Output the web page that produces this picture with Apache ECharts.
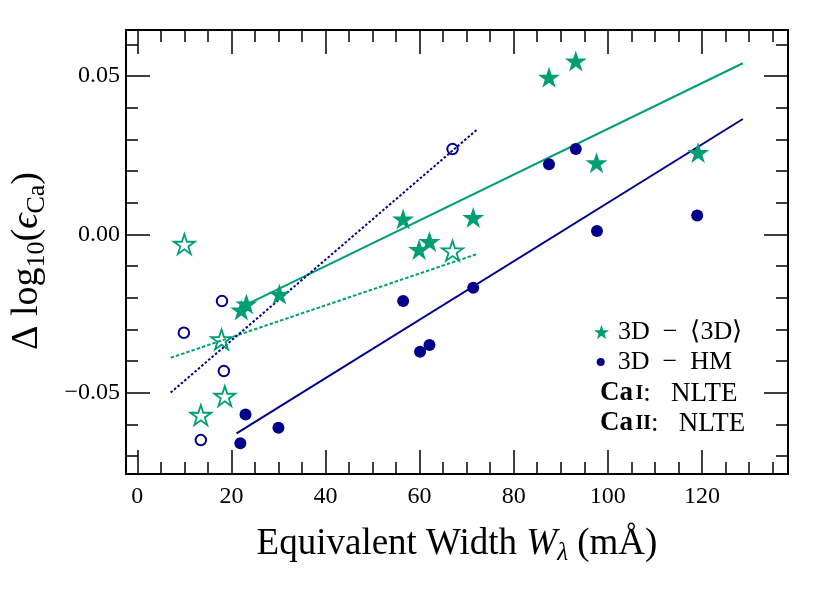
<!DOCTYPE html>
<html>
<head>
<meta charset="utf-8">
<script src="https://cdn.jsdelivr.net/npm/echarts@6/dist/echarts.min.js"></script>
<style>
  html, body { margin: 0; padding: 0; background: #fff; }
  #chart { width: 830px; height: 593px; }
</style>
</head>
<body>
<div id="chart"></div>
<script>
// abundance corrections vs equivalent width
// filled = Ca I, open = Ca II
const star3dCaI = [[22.1, -0.0239], [23.2, -0.0220], [30.2, -0.0189], [56.5, 0.0048], [59.9, -0.0048],
  [62.1, -0.0023], [71.4, 0.0053], [87.5, 0.0496], [93.2, 0.0547], [97.6, 0.0226], [119.2, 0.0258]]
const star3dCaII = [[10.0, -0.0031], [13.5, -0.0571], [17.9, -0.0332], [18.6, -0.0511], [67.0, -0.0052]]
const dotHmCaI = [[21.9, -0.0660], [23.0, -0.0569], [30.0, -0.0611], [56.5, -0.0211], [60.1, -0.0371],
  [62.1, -0.0350], [71.4, -0.0169], [87.5, 0.0221], [93.2, 0.0269], [97.7, 0.0010], [119.0, 0.0059]]
const dotHmCaII = [[9.9, -0.0311], [13.5, -0.0650], [18.0, -0.0211], [18.4, -0.0432], [67.0, 0.0269]]

// linear fits (end points)
const fit3dCaI = [[23.5, -0.0220], [128.7, 0.0540]]
const fitHmCaI = [[21.1, -0.0629], [128.7, 0.0364]]
const fit3dCaII = [[7.1, -0.0390], [72.1, -0.0063]]
const fitHmCaII = [[7.1, -0.0500], [72.4, 0.0333]]

const xRange = [-2.4, 138.3]
const yRange = [-0.0757, 0.0645]
const xMajorTicks = [0, 20, 40, 60, 80, 100, 120]
const xMinorTicks = [5, 10, 15, 25, 30, 35, 45, 50, 55, 65, 70, 75, 85, 90, 95, 105, 110, 115, 125, 130, 135]
const yMajorTicks = [-0.05, 0, 0.05]
const yMinorTicks = [-0.07, -0.06, -0.04, -0.03, -0.02, -0.01, 0.01, 0.02, 0.03, 0.04, 0.06]

const NAME_3D = '3D  −  ⟨3D⟩'
const NAME_HM = '3D  −  HM'

const FONT = '"Liberation Serif", "Times New Roman", serif'
const GREEN = '#029e73'
const BLUE = '#00008b'

// 5-point star, same proportions as the matplotlib '*' marker
function starPath() {
  const pts = []
  for (let i = 0; i < 10; i++) {
    const r = i % 2 === 0 ? 50 : 19.1
    const a = i * Math.PI / 5
    pts.push((50 + r * Math.sin(a)).toFixed(2) + ' ' + (50 - r * Math.cos(a)).toFixed(2))
  }
  return 'path://M' + pts.join(' L') + ' Z'
}
const STAR = starPath()

function fmtY(v) {
  if (Math.abs(v) < 1e-9) return '0.00'
  return (v < 0 ? '−' : '') + Math.abs(v).toFixed(2)
}

function tickAxis(kind, position, values, length, frame) {
  const range = kind === 'x' ? xRange : yRange
  return {
    type: 'value',
    position,
    min: range[0],
    max: range[1],
    silent: true,
    axisLine: { show: !!frame, onZero: false, lineStyle: { color: '#000', width: 2 } },
    axisTick: { show: true, inside: true, length, customValues: values, lineStyle: { color: '#000', width: 1.5 } },
    axisLabel: { show: false },
    splitLine: { show: false },
  }
}

const labelStyle = { fontFamily: FONT, fontSize: 24, color: '#000' }
const legendText = { fontFamily: FONT, fontSize: 26, color: '#000' }

const xMain = tickAxis('x', 'bottom', xMajorTicks, 24, true)
xMain.axisLabel = { show: true, customValues: xMajorTicks, margin: 11, ...labelStyle }
xMain.name = '{n|Equivalent Width }{i|W}{s|λ}{n| (mÅ)}'
xMain.nameLocation = 'middle'
xMain.nameGap = 48
xMain.nameTextStyle = {
  rich: {
    n: { fontFamily: FONT, fontSize: 37, lineHeight: 44, color: '#000' },
    i: { fontFamily: FONT, fontSize: 37, lineHeight: 44, fontStyle: 'italic', color: '#000' },
    s: { fontFamily: FONT, fontSize: 25, lineHeight: 25, fontStyle: 'italic', verticalAlign: 'bottom', color: '#000' },
  },
}

const yMain = tickAxis('y', 'left', yMajorTicks, 24, true)
yMain.axisLabel = { show: true, customValues: yMajorTicks, margin: 6, formatter: fmtY, ...labelStyle }
yMain.name = '{n|Δ log}{s|10}{n|(}{e|ϵ}{s|Ca}{n|)}'
yMain.nameLocation = 'middle'
yMain.nameGap = 76
yMain.nameTextStyle = {
  padding: [0, 18, 0, 0],
  rich: {
    n: { fontFamily: FONT, fontSize: 38, lineHeight: 46, color: '#000' },
    e: { fontFamily: FONT, fontSize: 38, lineHeight: 46, fontStyle: 'italic', color: '#000' },
    s: { fontFamily: FONT, fontSize: 26, lineHeight: 26, verticalAlign: 'bottom', color: '#000' },
  },
}

function caLine(stage, top) {
  return {
    type: 'text', left: 600, top, silent: true,
    style: {
      text: '{b|Ca}{sp| }{c|' + stage + '}{n|:   NLTE}',
      rich: {
        b: { fontFamily: FONT, fontSize: 27, fontWeight: 'bold', fill: '#000' },
        sp: { fontFamily: FONT, fontSize: 10 },
        c: { fontFamily: FONT, fontSize: 20, fontWeight: 'bold', fill: '#000' },
        n: { fontFamily: FONT, fontSize: 27, fill: '#000' },
      },
    },
  }
}

const option = {
  backgroundColor: '#fff',
  animation: false,
  grid: { left: 124, top: 30, right: 42, bottom: 119, containLabel: false },
  xAxis: [
    xMain,
    tickAxis('x', 'bottom', xMinorTicks, 12, false),
    tickAxis('x', 'top', xMajorTicks, 24, true),
    tickAxis('x', 'top', xMinorTicks, 12, false),
  ],
  yAxis: [
    yMain,
    tickAxis('y', 'left', yMinorTicks, 12, false),
    tickAxis('y', 'right', yMajorTicks, 24, true),
    tickAxis('y', 'right', yMinorTicks, 12, false),
  ],
  legend: [
    {
      data: [{ name: NAME_3D, icon: STAR }],
      left: 594, top: 319, padding: 0,
      itemWidth: 15, itemHeight: 15, selectedMode: false,
      textStyle: { ...legendText, padding: [0, 0, 0, 4] },
    },
    {
      data: [{ name: NAME_HM, icon: 'circle' }],
      left: 596.7, top: 349, padding: 0,
      itemWidth: 8, itemHeight: 8, selectedMode: false,
      textStyle: { ...legendText, padding: [0, 0, 0, 8] },
    },
  ],
  graphic: [caLine('I', 380), caLine('II', 410)],
  series: [
    {
      name: 'fit 3D Ca I', type: 'line', data: fit3dCaI, showSymbol: false, silent: true, z: 2,
      lineStyle: { color: GREEN, width: 2 },
    },
    {
      name: 'fit HM Ca I', type: 'line', data: fitHmCaI, showSymbol: false, silent: true, z: 2,
      lineStyle: { color: BLUE, width: 2 },
    },
    {
      name: 'fit 3D Ca II', type: 'line', data: fit3dCaII, showSymbol: false, silent: true, z: 2,
      lineStyle: { color: GREEN, width: 2, type: [3.5, 2] },
    },
    {
      name: 'fit HM Ca II', type: 'line', data: fitHmCaII, showSymbol: false, silent: true, z: 2,
      lineStyle: { color: BLUE, width: 2, type: [2.5, 2] },
    },
    {
      name: NAME_HM, type: 'scatter', data: dotHmCaI, symbol: 'circle', symbolSize: 12, z: 3,
      itemStyle: { color: BLUE, opacity: 1 },
    },
    {
      name: 'HM Ca II', type: 'scatter', data: dotHmCaII, symbol: 'circle', symbolSize: 10.5, z: 3,
      itemStyle: { color: 'transparent', borderColor: BLUE, borderWidth: 2, opacity: 1 },
    },
    {
      name: NAME_3D, type: 'scatter', data: star3dCaI, symbol: STAR, symbolSize: 22, symbolKeepAspect: true, z: 4,
      itemStyle: { color: GREEN, opacity: 1 },
    },
    {
      name: '3D Ca II', type: 'scatter', data: star3dCaII, symbol: STAR, symbolSize: 21, symbolKeepAspect: true, z: 4,
      itemStyle: { color: 'transparent', borderColor: GREEN, borderWidth: 1.8, opacity: 1 },
    },
  ],
}

const chart = echarts.init(document.getElementById('chart'))
chart.setOption(option)
window.addEventListener('resize', () => chart.resize())
</script>
</body>
</html>
